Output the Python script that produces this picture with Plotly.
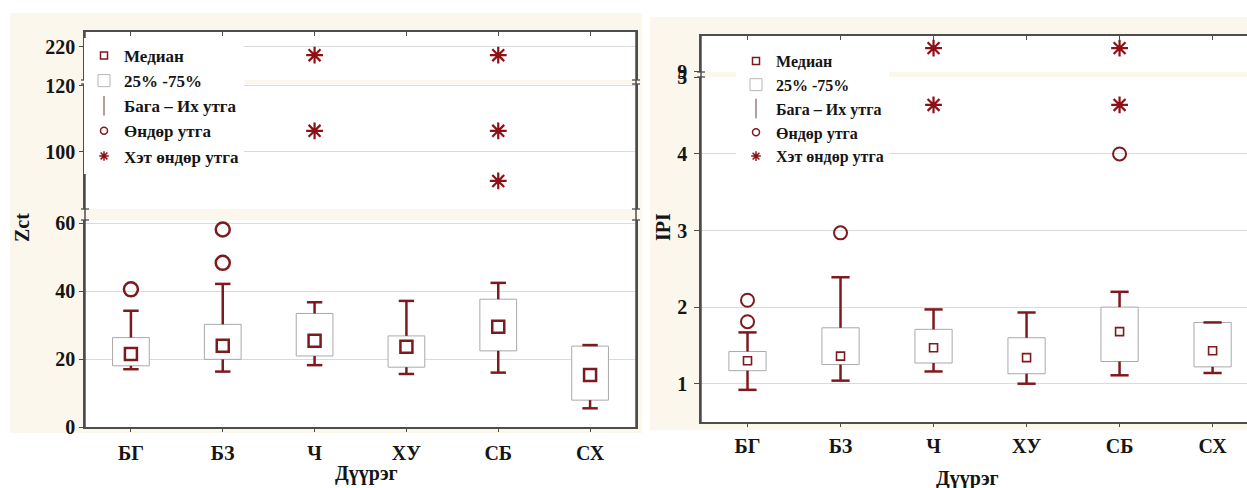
import plotly.graph_objects as go

W, H = 1247, 488

categories = ['БГ', 'БЗ', 'Ч', 'ХУ', 'СБ', 'СХ']

# Zct panel (min, q1, median, q3, max)
zct_min = [17.0, 16.3, 18.2, 15.6, 16.0, 5.5]
zct_q1 = [18.0, 19.9, 20.9, 17.6, 22.4, 7.9]
zct_med = [21.5, 23.9, 25.4, 23.6, 29.5, 15.3]
zct_q3 = [26.3, 30.2, 33.4, 26.8, 37.6, 23.8]
zct_max = [34.2, 42.1, 36.7, 37.1, 42.4, 24.1]
zct_outlier_cat = ['БГ', 'БЗ', 'БЗ']
zct_outlier_val = [40.5, 48.3, 58.1]
zct_extreme_cat = ['Ч', 'Ч', 'СБ', 'СБ', 'СБ']
zct_extreme_val = [217.5, 106.4, 217.5, 106.4, 91.2]

# IPI panel
ipi_min = [0.92, 1.04, 1.16, 1.00, 1.11, 1.14]
ipi_q1 = [1.17, 1.25, 1.27, 1.13, 1.29, 1.22]
ipi_med = [1.30, 1.36, 1.47, 1.34, 1.68, 1.43]
ipi_q3 = [1.42, 1.73, 1.71, 1.60, 2.00, 1.80]
ipi_max = [1.67, 2.39, 1.97, 1.93, 2.20, 1.80]
ipi_outlier_cat = ['БГ', 'БГ', 'БЗ', 'СБ']
ipi_outlier_val = [1.81, 2.09, 2.97, 4.00]
ipi_extreme_cat = ['Ч', 'Ч', 'СБ', 'СБ']
ipi_extreme_val = [4.64, 9.33, 4.64, 9.33]

legend_labels = ['Медиан', '25% -75%', 'Бага – Их утга', 'Өндөр утга', 'Хэт өндөр утга']
x_title = 'Дүүрэг'

DR = '#7d1a1e'
AST = '#8e1014'
FRAME = '#4d4d4d'
GRID = '#dadada'
CREAM = '#fcf7ec'
SERIF = 'Liberation Serif'


def fx(px):
    return px / W


def fy(py):
    return 1 - py / H


idx = list(range(len(categories)))
cidx = {c: i for i, c in enumerate(categories)}

fig = go.Figure()


def add_segment(xa, ya, mn, q1, med, q3, mx, ocat, oval, ecat, evals, st):
    fig.add_trace(go.Bar(x=idx, y=[b - a for a, b in zip(q1, q3)], base=q1, width=0.4,
                         marker=dict(color='white', line=dict(color='#a9a9a9', width=1)),
                         xaxis=xa, yaxis=ya, showlegend=False, hoverinfo='skip'))
    wx, wy = [], []
    for i in idx:
        wx += [i, i, None, i, i, None]
        wy += [q3[i], mx[i], None, q1[i], mn[i], None]
    fig.add_trace(go.Scatter(x=wx, y=wy, mode='lines', line=dict(color=DR, width=st['wl']),
                             xaxis=xa, yaxis=ya, showlegend=False, hoverinfo='skip'))
    fig.add_trace(go.Scatter(x=idx + idx, y=mx + mn, mode='markers',
                             marker=dict(symbol='line-ew-open', size=st['cap'], color=DR,
                                         line=dict(color=DR, width=st['wl'])),
                             xaxis=xa, yaxis=ya, showlegend=False, hoverinfo='skip'))
    fig.add_trace(go.Scatter(x=idx, y=med, mode='markers',
                             marker=dict(symbol='square-open', size=st['med'], color=DR,
                                         line=dict(color=DR, width=st['medw'])),
                             xaxis=xa, yaxis=ya, showlegend=False, hoverinfo='skip'))
    fig.add_trace(go.Scatter(x=[cidx[c] for c in ocat], y=oval, mode='markers',
                             marker=dict(symbol='circle-open', size=st['out'], color=DR,
                                         line=dict(color=DR, width=st['outw'])),
                             xaxis=xa, yaxis=ya, showlegend=False, hoverinfo='skip'))
    fig.add_trace(go.Scatter(x=[cidx[c] for c in ecat], y=evals, mode='markers',
                             marker=dict(symbol='asterisk-open', size=st['ast'], color=AST,
                                         line=dict(color=AST, width=2.2)),
                             xaxis=xa, yaxis=ya, showlegend=False, hoverinfo='skip'))


st_left = dict(wl=2.5, cap=11, med=12, medw=2.5, out=14, outw=2.5, ast=14)
st_right = dict(wl=2.5, cap=13, med=8, medw=1.6, out=13, outw=2.0, ast=14)

left_segs = [('x', 'y'), ('x', 'y2'), ('x2', 'y3')]
right_segs = [('x3', 'y4'), ('x4', 'y5')]
for xa, ya in left_segs:
    add_segment(xa, ya, zct_min, zct_q1, zct_med, zct_q3, zct_max,
                zct_outlier_cat, zct_outlier_val, zct_extreme_cat, zct_extreme_val, st_left)
for xa, ya in right_segs:
    add_segment(xa, ya, ipi_min, ipi_q1, ipi_med, ipi_q3, ipi_max,
                ipi_outlier_cat, ipi_outlier_val, ipi_extreme_cat, ipi_extreme_val, st_right)


# legend entries
def add_legend(lg, xa, ya):
    fig.add_trace(go.Scatter(x=[None], y=[None], mode='markers', name=legend_labels[0], legend=lg,
                             marker=dict(symbol='square-open', size=7, color=DR, line=dict(width=1.5, color=DR)),
                             xaxis=xa, yaxis=ya))
    fig.add_trace(go.Bar(x=[None], y=[None], name=legend_labels[1], legend=lg,
                         marker=dict(color='white', line=dict(color='#b5b5b5', width=1)),
                         xaxis=xa, yaxis=ya))
    fig.add_trace(go.Scatter(x=[None], y=[None], mode='markers', name=legend_labels[2], legend=lg,
                             marker=dict(symbol='line-ns-open', size=14, color='#8a6a6a',
                                         line=dict(width=1.3, color='#8a6a6a')),
                             xaxis=xa, yaxis=ya))
    fig.add_trace(go.Scatter(x=[None], y=[None], mode='markers', name=legend_labels[3], legend=lg,
                             marker=dict(symbol='circle-open', size=7, color=DR, line=dict(width=1.5, color=DR)),
                             xaxis=xa, yaxis=ya))
    fig.add_trace(go.Scatter(x=[None], y=[None], mode='markers', name=legend_labels[4], legend=lg,
                             marker=dict(symbol='asterisk-open', size=8, color=AST, line=dict(width=1.5, color=AST)),
                             xaxis=xa, yaxis=ya))


add_legend('legend', 'x', 'y')
add_legend('legend2', 'x3', 'y4')

tickfont = dict(family=SERIF, size=20, color='#151515', weight='bold')

# geometry (pixels)
L_X = (85, 636)
R_X = (701, 1247)
left_y = {'yaxis': (220, 427, [0, 60.9], [0, 20, 40, 60]),
          'yaxis2': (84, 209, [82.7, 120.6], [100, 120]),
          'yaxis3': (32, 80, [210, 224.5], [220])}
right_y = {'yaxis4': (77, 422, [0.5, 5.005], [1, 2, 3, 4, 5]),
           'yaxis5': (36, 72, [8.995, 9.5], [9])}

layout_axes = {}
for name, (top, bot, rng, tv) in left_y.items():
    layout_axes[name] = dict(domain=[fy(bot), fy(top)], range=rng, tickvals=tv, anchor='x',
                             showline=True, linecolor=FRAME, linewidth=1.5, mirror=True,
                             ticks='outside', ticklen=4, tickcolor=FRAME, showgrid=True,
                             gridcolor=GRID, gridwidth=1, zeroline=False, tickfont=tickfont,
                             automargin=False)
for name, (top, bot, rng, tv) in right_y.items():
    layout_axes[name] = dict(domain=[fy(bot), fy(top)], range=rng, tickvals=tv, anchor='x3',
                             showline=True, linecolor=FRAME, linewidth=1.5,
                             ticks='outside', ticklen=5, tickcolor=FRAME, showgrid=True,
                             gridcolor=GRID, gridwidth=1, zeroline=False, tickfont=tickfont,
                             ticklabelstandoff=3, automargin=False)

xcommon = dict(tickvals=idx, ticktext=categories, showline=True, linecolor=FRAME, linewidth=1.5,
               showgrid=False, zeroline=False, tickcolor=FRAME, tickfont=tickfont, automargin=False)
layout_axes['xaxis'] = dict(xcommon, domain=[fx(L_X[0]), fx(L_X[1])], range=[-0.5, 5.5], anchor='y',
                            ticks='outside', ticklen=3, ticklabelstandoff=4)
layout_axes['xaxis2'] = dict(xcommon, domain=[fx(L_X[0]), fx(L_X[1])], range=[-0.5, 5.5], anchor='y3',
                             side='top', ticks='inside', ticklen=4, showticklabels=False)
layout_axes['xaxis3'] = dict(xcommon, domain=[fx(R_X[0]), 1], range=[-0.5, 5.37], anchor='y4',
                             ticks='outside', ticklen=3, ticklabelstandoff=2)
layout_axes['xaxis4'] = dict(xcommon, domain=[fx(R_X[0]), 1], range=[-0.5, 5.37], anchor='y5',
                             side='top', ticks='inside', ticklen=4, showticklabels=False)

shapes = [
    dict(type='rect', xref='paper', yref='paper', x0=fx(10), x1=fx(642), y0=fy(433), y1=fy(13),
         fillcolor=CREAM, line=dict(width=0), layer='below'),
    dict(type='rect', xref='paper', yref='paper', x0=fx(650), x1=1, y0=fy(430), y1=fy(17),
         fillcolor=CREAM, line=dict(width=0), layer='below'),
]
for (top, bot, _, _) in left_y.values():
    shapes.append(dict(type='rect', xref='paper', yref='paper', x0=fx(L_X[0]), x1=fx(L_X[1]),
                       y0=fy(bot), y1=fy(top), fillcolor='white', line=dict(width=0), layer='below'))
for (top, bot, _, _) in right_y.values():
    shapes.append(dict(type='rect', xref='paper', yref='paper', x0=fx(R_X[0]), x1=1,
                       y0=fy(bot), y1=fy(top), fillcolor='white', line=dict(width=0), layer='below'))

# continuous frame lines across breaks
for xp, (t, b) in [(L_X[0], (32, 427)), (L_X[1], (32, 427)), (R_X[0], (36, 422))]:
    shapes.append(dict(type='line', xref='paper', yref='paper', x0=fx(xp), x1=fx(xp), y0=fy(b), y1=fy(t),
                       line=dict(color=FRAME, width=1.5)))
# break marks
breaks_left = [80, 84, 209, 220]
breaks_right = [72, 77]
for xp, brs in [(L_X[0], breaks_left), (L_X[1], breaks_left), (R_X[0], breaks_right)]:
    for b in brs:
        shapes.append(dict(type='line', xref='paper', yref='paper', xsizemode='pixel', xanchor=fx(xp),
                           x0=-4, x1=4, y0=fy(b), y1=fy(b), line=dict(color=FRAME, width=1.3)))

titlefont = dict(family=SERIF, size=20, color='#151515', weight='bold')
xtfont = dict(family=SERIF, size=20, color='#151515', weight='bold')
annotations = [
    dict(text='Zct', x=fx(22), y=fy(228), xref='paper', yref='paper', textangle=-90, showarrow=False,
         xanchor='center', yanchor='middle', font=titlefont),
    dict(text='IPI', x=fx(663), y=fy(227), xref='paper', yref='paper', textangle=-90, showarrow=False,
         xanchor='center', yanchor='middle', font=titlefont),
    dict(text=x_title, x=fx(366), y=fy(473), xref='paper', yref='paper', showarrow=False,
         xanchor='center', yanchor='middle', font=xtfont),
    dict(text=x_title, x=fx(967), y=fy(478), xref='paper', yref='paper', showarrow=False,
         xanchor='center', yanchor='middle', font=xtfont),
]

fig.update_layout(
    template='none',
    width=W, height=H, autosize=False,
    margin=dict(l=0, r=0, t=0, b=0, pad=0, autoexpand=False),
    paper_bgcolor='white', plot_bgcolor='rgba(0,0,0,0)',
    barmode='overlay', showlegend=True,
    legend=dict(x=fx(84), y=fy(38), xanchor='left', yanchor='top', bgcolor='white',
                font=dict(family=SERIF, size=17, color='#151515', weight='bold'),
                itemwidth=30, tracegroupgap=0, traceorder='normal'),
    legend2=dict(x=fx(736), y=fy(44), xanchor='left', yanchor='top', bgcolor='white',
                 font=dict(family=SERIF, size=16, color='#151515', weight='bold'),
                 itemwidth=30, tracegroupgap=0, traceorder='normal'),
    shapes=shapes, annotations=annotations,
    **layout_axes,
)

fig.write_html('out.html', config={'displayModeBar': False},
               post_script="document.body.style.margin='0';")
